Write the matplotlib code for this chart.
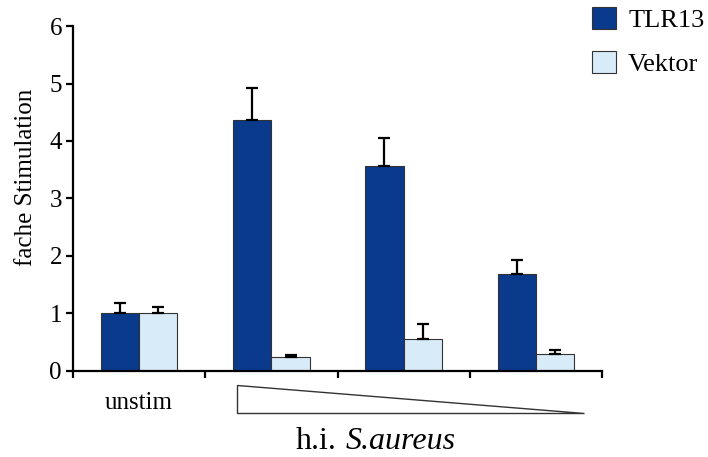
import matplotlib
matplotlib.use("Agg")
import matplotlib.pyplot as plt
import numpy as np
from matplotlib.patches import Polygon

plt.rcParams['font.family'] = ['Liberation Serif', 'DejaVu Serif']

categories = ["unstim", "dose1", "dose2", "dose3"]
tlr13 = [1.00, 4.37, 3.56, 1.68]
tlr13_err = [0.19, 0.56, 0.49, 0.25]
vektor = [1.00, 0.24, 0.56, 0.29]
vektor_err = [0.12, 0.03, 0.25, 0.07]
yticks = [0, 1, 2, 3, 4, 5, 6]

dark = '#0a3a8c'
light = '#d8ebf8'

fig = plt.figure(figsize=(7.08, 4.57), dpi=100)
ax = fig.add_axes([0.1031, 0.1882, 0.7472, 0.7549])

x = np.arange(len(categories))
w = 0.29
ax.bar(x - w/2, tlr13, w, color=dark, edgecolor='#333333', linewidth=0.8, label='TLR13',
       yerr=[np.zeros(len(x)), tlr13_err], error_kw=dict(ecolor='black', elinewidth=1.6, capsize=4, capthick=1.6))
ax.bar(x + w/2, vektor, w, color=light, edgecolor='#333333', linewidth=0.8, label='Vektor',
       yerr=[np.zeros(len(x)), vektor_err], error_kw=dict(ecolor='black', elinewidth=1.6, capsize=4, capthick=1.6))

ax.set_xlim(-0.5, 3.5)
ax.set_ylim(0, 6)
ax.set_yticks(yticks)
ax.set_yticklabels([str(t) for t in yticks], fontsize=18)
ax.set_xticks(np.arange(-0.5, 3.6, 1.0))
ax.set_xticklabels([])
ax.tick_params(axis='x', direction='out', length=5, width=1.6)
ax.tick_params(axis='y', direction='out', length=5, width=1.6, pad=3)
for s in ['top', 'right']:
    ax.spines[s].set_visible(False)
ax.spines['left'].set_linewidth(1.6)
ax.spines['bottom'].set_linewidth(1.6)
ax.set_ylabel('fache Stimulation', fontsize=18)
ax.yaxis.set_label_coords(-0.068, 0.562)

ax.text(0, -0.56, 'unstim', ha='center', va='center', fontsize=18)
tri = Polygon([[0.742, -0.243], [0.742, -0.73], [3.364, -0.73]], closed=True,
              facecolor='white', edgecolor='#333333', linewidth=1.0, clip_on=False)
ax.add_patch(tri)
ax.text(1.49, -1.23, 'h.i.', ha='right', va='center', fontsize=23)
ax.text(1.56, -1.23, 'S.aureus', ha='left', va='center', fontsize=23, style='italic')

leg = ax.legend(loc='upper left', bbox_to_anchor=(592/708, 1 - 7/457), bbox_transform=fig.transFigure,
                frameon=False, fontsize=19, handlelength=0.92, handleheight=0.92,
                handletextpad=0.45, labelspacing=0.72, borderaxespad=0, borderpad=0)

fig.savefig('out.png', dpi=100)
